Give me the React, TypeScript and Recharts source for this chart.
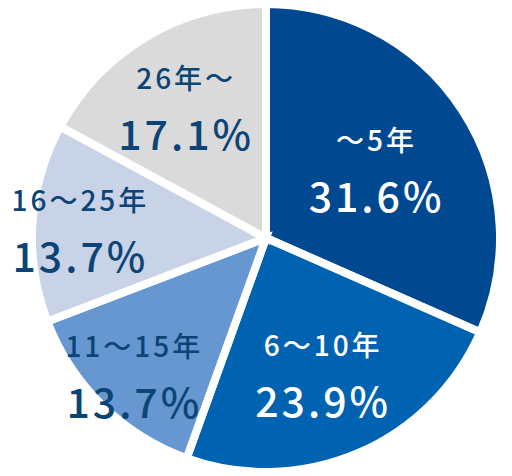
import { PieChart, Pie, Cell } from "recharts";

const categories = ["～5年", "6～10年", "11～15年", "16～25年", "26年～"];
const shares = [31.6, 23.9, 13.7, 13.7, 17.1];
const sliceColors = ["#00488f", "#0063b1", "#6697d1", "#c8d3e8", "#dadada"];
const textColors = ["#ffffff", "#ffffff", "#0c4475", "#0c4475", "#0c4475"];

// label distance from the centre, per slice (small slices sit further out)
const labelRadius = [132, 145, 188, 186, 156];

const data = categories.map((name, i) => ({ name, value: shares[i] }));

const RADIAN = Math.PI / 180;
const FONT = '"Noto Sans CJK JP", "Noto Sans", sans-serif';

const renderLabel = (props: any) => {
    const { cx, cy, midAngle, index } = props;
    const r = labelRadius[index];
    const x = cx + r * Math.cos(-midAngle * RADIAN);
    const y = cy + r * Math.sin(-midAngle * RADIAN);
    const color = textColors[index];
    return (
        <g>
            <text
                x={x}
                y={y - 27}
                textAnchor="middle"
                dominantBaseline="central"
                fill={color}
                fontFamily={FONT}
                fontSize={28}
                fontWeight={500}
                letterSpacing={3}
            >
                {categories[index]}
            </text>
            <text
                x={x}
                y={y + 28}
                textAnchor="middle"
                dominantBaseline="central"
                fill={color}
                fontFamily={FONT}
                fontSize={41}
                fontWeight={500}
                letterSpacing={3}
            >
                {shares[index].toFixed(1)}%
            </text>
        </g>
    );
};

const App = () => {
    return (
        <div style={{ position: "absolute", left: 0, top: 0 }}>
            <PieChart width={512} height={476} margin={{ top: 0, right: 0, bottom: 0, left: 0 }}>
                <Pie
                    data={data}
                    dataKey="value"
                    nameKey="name"
                    cx={266}
                    cy={238}
                    outerRadius={234}
                    startAngle={90}
                    endAngle={-270}
                    stroke="#ffffff"
                    strokeWidth={8}
                    label={renderLabel}
                    labelLine={false}
                    isAnimationActive={false}
                >
                    {data.map((d, i) => (
                        <Cell key={d.name} fill={sliceColors[i]} />
                    ))}
                </Pie>
            </PieChart>
        </div>
    );
};

export default App;
